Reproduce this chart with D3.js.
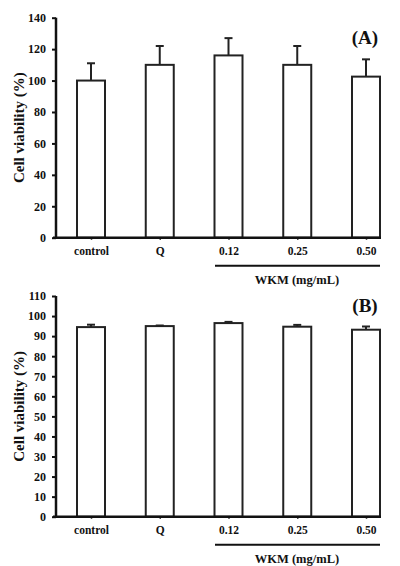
<!DOCTYPE html>
<html>
<head>
<meta charset="utf-8">
<script src="https://cdn.jsdelivr.net/npm/d3@7"></script>
<style>
  body { margin: 0; background: #fff; }
  text { font-family: "Liberation Serif", "Times New Roman", serif; font-weight: bold; fill: #111; }
</style>
</head>
<body>
<div id="chart"></div>
<script>
// groups on the x axis
const groups = ["control", "Q", "0.12", "0.25", "0.50"]

// panel A: mean and upper error
const meanA = [100, 110, 116, 110, 102.5]
const errA = [11, 12, 11, 12, 11]
const ticksA = [0, 20, 40, 60, 80, 100, 120, 140]

// panel B: mean and upper error
const meanB = [94.5, 95, 96.5, 94.7, 93.2]
const errB = [1.2, 0.3, 0.6, 0.9, 1.6]
const ticksB = [0, 10, 20, 30, 40, 50, 60, 70, 80, 90, 100, 110]

const width = 400, height = 566

const svg = d3.select("#chart").append("svg")
  .attr("width", width)
  .attr("height", height)

// draws one panel
function panel(top, bottom, maxY, ticks, means, errs, tag, tagY) {
  const x = d3.scalePoint().domain(groups).range([91, 366])
  const y = d3.scaleLinear().domain([0, maxY]).range([bottom, top])
  const barW = 28
  const g = svg.append("g")

  // bars
  g.selectAll("rect").data(means).enter().append("rect")
    .attr("x", (d, i) => x(groups[i]) - barW / 2)
    .attr("y", d => y(d))
    .attr("width", barW)
    .attr("height", d => y(0) - y(d))
    .attr("fill", "#fff")
    .attr("stroke", "#222")
    .attr("stroke-width", 2)

  // error bars (upper only)
  means.forEach((m, i) => {
    const cx = x(groups[i])
    g.append("line")
      .attr("x1", cx).attr("x2", cx)
      .attr("y1", y(m)).attr("y2", y(m + errs[i]))
      .attr("stroke", "#222").attr("stroke-width", 2)
    g.append("line")
      .attr("x1", cx - 4).attr("x2", cx + 4)
      .attr("y1", y(m + errs[i])).attr("y2", y(m + errs[i]))
      .attr("stroke", "#222").attr("stroke-width", 2)
  })

  // y axis
  const yAxis = g.append("g")
    .attr("transform", "translate(56,0)")
    .call(d3.axisLeft(y).tickValues(ticks).tickSize(4).tickPadding(6))
  yAxis.select(".domain").attr("stroke", "#111").attr("stroke-width", 2.5)
    .attr("d", `M0,${y(maxY)}V${y(0)}`)
  yAxis.selectAll(".tick line").attr("stroke", "#111").attr("stroke-width", 2)
  yAxis.selectAll(".tick text").style("font-size", "12px")

  // x axis
  const xAxis = g.append("g")
    .attr("transform", `translate(0,${y(0)})`)
    .call(d3.axisBottom(x).tickSize(2).tickPadding(7))
  xAxis.select(".domain").attr("stroke", "#111").attr("stroke-width", 2.5)
    .attr("d", "M53,0H381")
  xAxis.selectAll(".tick line").attr("stroke", "#111").attr("stroke-width", 1.5)
  xAxis.selectAll(".tick text").style("font-size", "11.5px")

  // WKM bracket
  g.append("line")
    .attr("x1", 215).attr("x2", 380)
    .attr("y1", y(0) + 28).attr("y2", y(0) + 28)
    .attr("stroke", "#111").attr("stroke-width", 2)
  g.append("text")
    .attr("x", 297).attr("y", y(0) + 46)
    .attr("text-anchor", "middle")
    .style("font-size", "12.5px")
    .text("WKM (mg/mL)")

  // y label
  g.append("text")
    .attr("transform", `translate(24,${(top + bottom) / 2}) rotate(-90)`)
    .attr("text-anchor", "middle")
    .style("font-size", "15px")
    .text("Cell viability (%)")

  // panel tag
  g.append("text")
    .attr("x", 365).attr("y", tagY)
    .attr("text-anchor", "middle")
    .style("font-size", "19px")
    .text(tag)
}

panel(17.7, 237.7, 140, ticksA, meanA, errA, "(A)", 44)
panel(296, 516.7, 110, ticksB, meanB, errB, "(B)", 312)
</script>
</body>
</html>
